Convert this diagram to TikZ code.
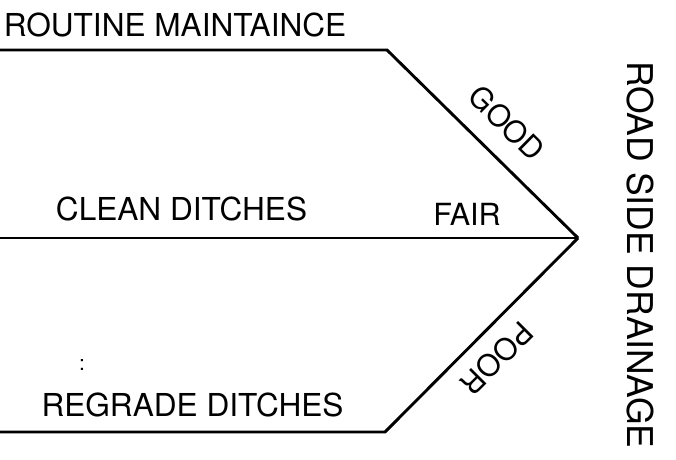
\documentclass[tikz,border=0pt]{standalone}
\usepackage{fontspec}
\setmainfont{TeX Gyre Heros}
\begin{document}
\begin{tikzpicture}[x=1pt,y=-1pt,
  branch/.style={line width=2.9pt,line join=miter,line cap=butt},
  lbl/.style={inner sep=0pt,outer sep=0pt,font=\fontsize{31.6}{36}\selectfont},
  slant/.style={inner sep=0pt,outer sep=0pt,font=\fontsize{30}{34}\selectfont},
  spine/.style={inner sep=0pt,outer sep=0pt,font=\fontsize{35.5}{40}\selectfont}]
  \useasboundingbox (0,0) rectangle (676,459);

  % corner points of the three branches
  \coordinate (tl) at (0,50);
  \coordinate (tk) at (387,50);
  \coordinate (ml) at (0,238);
  \coordinate (bl) at (0,432);
  \coordinate (bk) at (385,432);
  \coordinate (apex) at (578,238);

  \draw[branch] (tl) -- (tk) -- (apex);
  \draw[branch] (ml) -- (apex);
  \draw[branch] (bl) -- (bk) -- (apex);

  % branch labels
  \node[lbl] (routine) at (175,24.5) {ROUTINE MAINTAINCE};
  \node[lbl] (clean) at (181.5,208.5) {CLEAN DITCHES};
  \node[lbl] (regrade) at (192.5,405) {REGRADE DITCHES};
  \node[lbl,font=\fontsize{30.5}{34}\selectfont] (fair) at (467,214) {FAIR};
  \node[inner sep=0pt,font=\fontsize{21}{24}\selectfont] (mark) at (82,365) {:};

  % condition labels along the slanted edges
  \node[slant,rotate=-44.5] (good) at (507,123) {GOOD};
  \node[slant,rotate=225] (poor) at (497,358) {POOR};

  % spine title
  \node[spine,rotate=-90] (title) at (640.5,255) {ROAD SIDE DRAINAGE};
\end{tikzpicture}
\end{document}
